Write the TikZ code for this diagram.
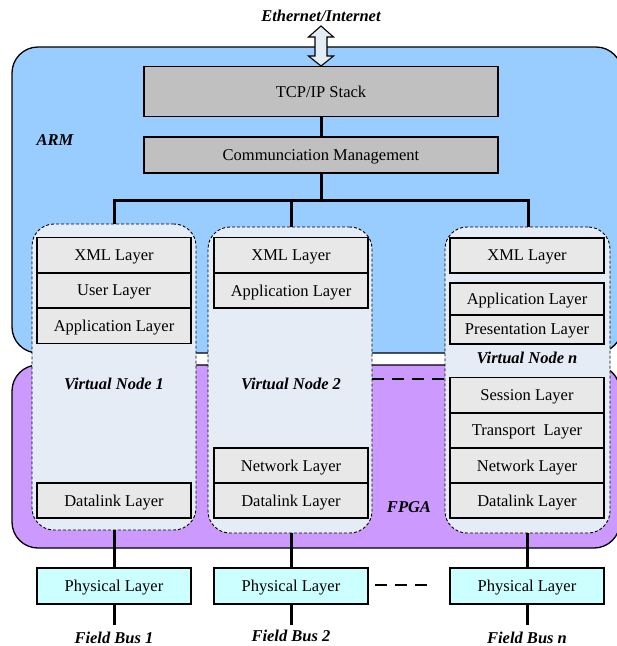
\documentclass[tikz,border=0pt]{standalone}
\usepackage{fontspec}
\setmainfont{Liberation Serif}
\begin{document}
\begin{tikzpicture}[x=1pt,y=-1pt,
  font=\fontsize{16.5}{18}\selectfont,
  region/.style={draw=black,line width=1.3pt,rounded corners=26pt},
  stackbox/.style={draw=black,line width=1.1pt,fill=stackgray,minimum width=354pt,inner sep=0pt,text depth=0pt},
  layerbox/.style={draw=black,line width=1.1pt,fill=layergray,minimum width=154pt,minimum height=35pt,inner sep=0pt,text depth=0pt},
  physbox/.style={draw=black,line width=1.1pt,fill=physcyan,minimum width=154pt,minimum height=36pt,inner sep=0pt,text depth=0pt},
  vnode/.style={draw=black,dashed,dash pattern=on 3pt off 2pt,line width=0.9pt,fill=vnfill,rounded corners=22pt,minimum height=306pt,inner sep=0pt},
  tag/.style={font=\fontsize{16.5}{18}\selectfont\bfseries\itshape,inner sep=0pt},
  wire/.style={line width=3pt},
  gapwire/.style={line width=1.8pt,dash pattern=on 12pt off 8pt}]
\definecolor{armblue}{HTML}{99CCFF}
\definecolor{fpgapurple}{HTML}{CC99FF}
\definecolor{stackgray}{HTML}{C0C0C0}
\definecolor{layergray}{HTML}{E8E8E8}
\definecolor{physcyan}{HTML}{CCFFFF}
\definecolor{vnfill}{HTML}{E6ECF6}
\definecolor{arrowfill}{HTML}{E4ECF4}
\useasboundingbox (0,0) rectangle (617,646);
\clip (0,0) rectangle (617,646);

% processor regions
\draw[region,fill=armblue] (12,47) rectangle (622,353);
\draw[region,fill=fpgapurple] (12,365) rectangle (620,548);
\node[tag] (arm) at (55,140) {ARM};
\node[tag] (fpga) at (409,507) {FPGA};

% network side
\node[tag] (eth) at (321,16) {Ethernet/Internet};
\node[stackbox,minimum height=50pt] (tcp) at (321,91.5) {TCP/IP Stack};
\node[stackbox,minimum height=36pt] (comm) at (321,155) {Communciation Management};
\draw[line width=1.1pt,fill=arrowfill,line join=miter]
  (321,26) -- (333.5,37) -- (327,37) -- (327,56) -- (333.5,56) -- (321,66)
  -- (308.5,56) -- (315,56) -- (315,37) -- (308.5,37) -- cycle;

% virtual nodes
\node[vnode,minimum width=164pt] (vn1) at (114,377) {};
\node[vnode,minimum width=164pt] (vn2) at (290,380) {};
\node[vnode,minimum width=165pt] (vnn) at (527.5,380) {};

\node[layerbox] (xml1) at (114,255) {XML Layer};
\node[layerbox] (usr1) at (114,290.5) {User Layer};
\node[layerbox] (app1) at (114,326) {Application Layer};
\node[layerbox] (dl1) at (114,500.5) {Datalink Layer};
\node[tag] (vl1) at (114,384) {Virtual Node 1};

\node[layerbox] (xml2) at (291,255) {XML Layer};
\node[layerbox] (app2) at (291,290.5) {Application Layer};
\node[layerbox] (net2) at (291,465.5) {Network Layer};
\node[layerbox] (dl2) at (291,500.5) {Datalink Layer};
\node[tag] (vl2) at (291,384) {Virtual Node 2};

\node[layerbox] (xmln) at (527,255.5) {XML Layer};
\node[layerbox,minimum height=32pt] (appn) at (527,299) {Application Layer};
\node[layerbox,minimum height=29pt] (pren) at (527,329.5) {Presentation Layer};
\node[tag] (vln) at (527,358) {Virtual Node n};
\node[layerbox] (sesn) at (527,395) {Session Layer};
\node[layerbox] (trn) at (527,430.5) {Transport\ \ Layer};
\node[layerbox] (netn) at (527,465.5) {Network Layer};
\node[layerbox] (dln) at (527,500.5) {Datalink Layer};

% physical layers and field buses
\node[physbox] (ph1) at (114,586) {Physical Layer};
\node[physbox] (ph2) at (291,586) {Physical Layer};
\node[physbox] (phn) at (527,586) {Physical Layer};
\coordinate (fb1end) at (114,625);
\coordinate (fb2end) at (291,625);
\coordinate (fbnend) at (527,625);
\node[tag] (fb1) at (114,638) {Field Bus 1};
\node[tag] (fb2) at (291,636) {Field Bus 2};
\node[tag] (fbn) at (527,638) {Field Bus n};

% connectors
\draw[wire] (tcp.south) -- (comm.north);
\coordinate (bus) at (321,200);
\coordinate (busl) at (114,200);
\coordinate (busm) at (291,200);
\coordinate (busr) at (528,200);
\draw[wire] (comm.south) -- (bus);
\draw[wire,line cap=rect] (busl) -- (busr);
\draw[wire] (busl) -- (busl |- vn1.north);
\draw[wire] (busm) -- (busm |- vn2.north);
\draw[wire] (busr) -- (busr |- vnn.north);
\draw[wire] (vn1.south -| ph1) -- (ph1.north);
\draw[wire] (vn2.south -| ph2) -- (ph2.north);
\draw[wire] (vnn.south -| phn) -- (phn.north);
\draw[wire] (ph1.south) -- (fb1end);
\draw[wire] (ph2.south) -- (fb2end);
\draw[wire] (phn.south) -- (fbnend);
\draw[gapwire] (vn2.east |- 0,379) -- (vnn.west |- 0,379);
\coordinate (dl) at (375,585);
\coordinate (dr) at (428,585);
\draw[gapwire] (dl) -- (dr);
\end{tikzpicture}
\end{document}
